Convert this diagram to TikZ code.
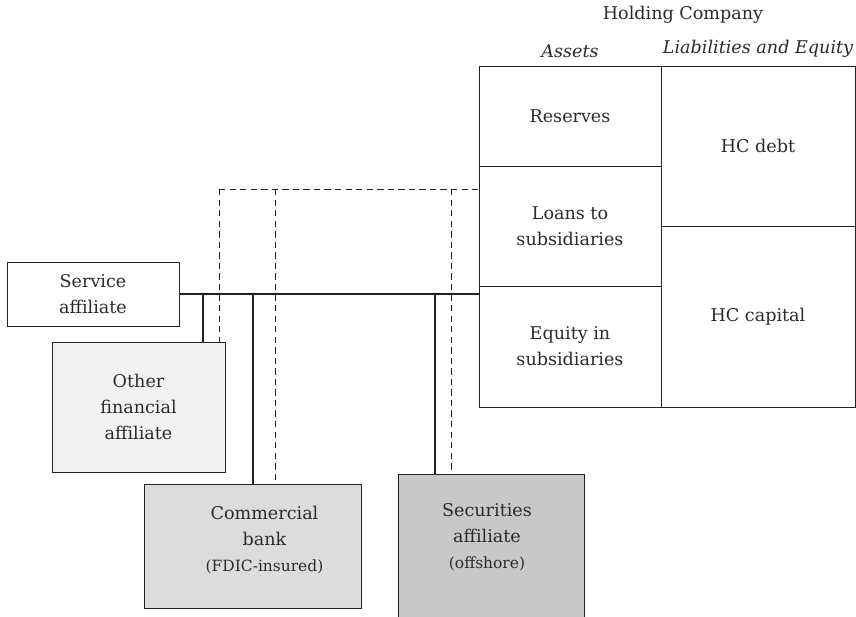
\documentclass[tikz,border=0pt]{standalone}
\usepackage{fontspec}
\setmainfont{DejaVu Serif}
\usepackage{xcolor}
\usepackage{tikz}
\usetikzlibrary{positioning}
\definecolor{inkgray}{HTML}{2B2B2B}
\definecolor{linegray}{HTML}{222222}
\definecolor{otherfill}{HTML}{F2F2F2}
\definecolor{bankfill}{HTML}{DCDCDC}
\definecolor{secfill}{HTML}{C8C8C8}
\newcommand{\parenfont}{\fontsize{11}{16}\selectfont}
\tikzset{
	basic/.style = {draw=linegray, line width=0.6pt, rectangle, inner sep=0pt, align=center, text=inkgray},
	cell/.style = {basic, minimum width=4.55cm},
	sidecell/.style = {basic, minimum width=4.85cm},
	affiliate/.style = {basic, minimum width=4.3cm},
	heading/.style = {text=inkgray, inner sep=0pt},
	boxtext/.style = {align=center, text=inkgray, anchor=north, inner sep=0pt},
	link/.style = {draw=linegray, line width=1pt},
	loanlink/.style = {draw=linegray, line width=0.7pt, dash pattern=on 4.5pt off 3pt}
}

\begin{document}
\begin{tikzpicture}[x=0.025cm, y=-0.025cm,
			every node/.style={font=\fontsize{12.5}{18.5}\selectfont}]
			\useasboundingbox (0,0) rectangle (856,617);
			\clip (0,0) rectangle (856,617);
			
			% balance sheet of the holding company
			\node[cell, minimum height=2.5cm] (reserves) at (570,116) {Reserves};
			\node[cell, minimum height=3cm] (loans) at (570,226) {Loans to\\subsidiaries};
			\node[cell, minimum height=3.025cm] (equity) at (570,346.5) {Equity in\\subsidiaries};
			\node[sidecell, minimum height=4cm] (debt) at (758,146) {HC debt};
			\node[sidecell, minimum height=4.525cm] (capital) at (758,316.5) {HC capital};
			
			% headings above the two sides
			\node[heading, font=\fontsize{12.5}{18.5}\itshape, above=0.2cm of reserves] (assets) {Assets};
			\node[heading, font=\fontsize{12.5}{18.5}\itshape, above=0.2cm of debt] (liab) {Liabilities and Equity};
			\node[heading] (hc) at (683,15) {Holding Company};
			
			% the affiliates
			\node[affiliate, fill=white, minimum height=1.6cm] (service) at (93,294) {Service\\affiliate};
			\node[affiliate, fill=otherfill, minimum width=4.325cm, minimum height=3.25cm] (other) at (138.5,407) {Other\\financial\\affiliate};
			\node[affiliate, fill=bankfill, minimum width=5.425cm, minimum height=3.1cm,
				label={[boxtext, xshift=0.3cm, yshift=-0.55cm]north:Commercial\\bank\\{\parenfont (FDIC-insured)}}] (bank) at (252.5,546) {};
			\node[affiliate, fill=secfill, minimum width=4.65cm, minimum height=4.15cm,
				label={[boxtext, xshift=-0.1cm, yshift=-0.75cm]north:Securities\\affiliate\\{\parenfont (offshore)}}] (sec) at (491,557) {};
			
			% equity stakes: solid bus from the service affiliate
			\coordinate (bus) at (service.east);
			\draw[link] (bus) -- (bus -| equity.west);
			\foreach \x/\sub in {203/other,253/bank,435/sec}
			\draw[link] (\x,0 |- bus) -- (\x,0 |- \sub.north);
			
			% loans: dashed lines into the loans cell
			\coordinate (loan) at (219,189);
			\draw[loanlink] (loan) -- (loan -| loans.west);
			\foreach \x/\sub in {219/other,275/bank,451/sec}
			\draw[loanlink] (\x,0 |- loan) -- (\x,0 |- \sub.north);
		\end{tikzpicture}
\end{document}
